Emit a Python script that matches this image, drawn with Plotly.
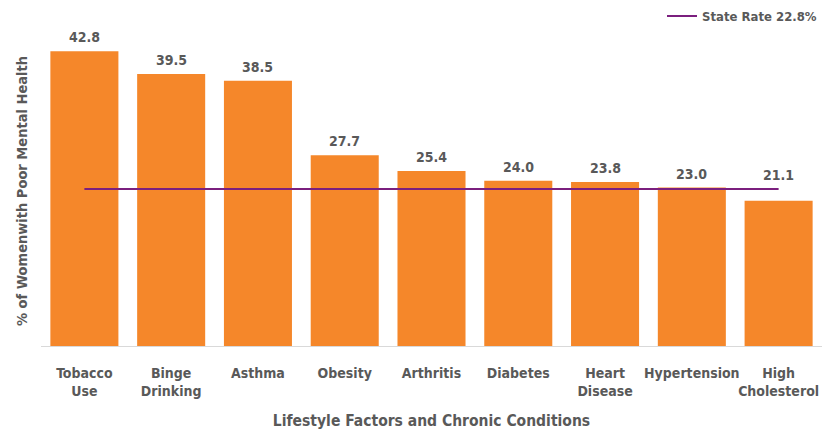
import plotly.graph_objects as go

categories = ["Tobacco<br>Use", "Binge<br>Drinking", "Asthma", "Obesity", "Arthritis",
              "Diabetes", "Heart<br>Disease", "Hypertension", "High<br>Cholesterol"]
values = [42.8, 39.5, 38.5, 27.7, 25.4, 24.0, 23.8, 23.0, 21.1]
state_rate = 22.8
state_label = "State Rate 22.8%"

FONT = "DejaVu Sans Condensed"
GREY = "#595959"

fig = go.Figure()
fig.add_trace(go.Bar(
    x=categories, y=values,
    marker=dict(color="#F5872A", line=dict(width=0)),
    showlegend=False,
    hoverinfo="skip",
))
fig.add_trace(go.Scatter(
    x=[categories[0], categories[-1]], y=[state_rate, state_rate],
    mode="lines", line=dict(color="#7B1F7E", width=2),
    name="<b>" + state_label + "</b>",
))

for c, v in zip(categories, values):
    fig.add_annotation(
        x=c, y=max(v, state_rate), text=f"<b>{v:.1f}</b>",
        showarrow=False, yanchor="bottom", yshift=4,
        font=dict(family=FONT, size=14, color=GREY),
    )

fig.update_layout(
    width=826, height=430,
    margin=dict(l=41, r=4, t=36, b=84, autoexpand=False),
    plot_bgcolor="white", paper_bgcolor="white",
    bargap=0.216,
    font=dict(family=FONT, color=GREY, size=13),
    legend=dict(x=1.0, xanchor="right", y=1.016, yanchor="bottom",
                font=dict(family=FONT, size=13, color=GREY),
                itemwidth=30, bgcolor="rgba(0,0,0,0)"),
    xaxis=dict(
        showline=True, linecolor="#D9D9D9", linewidth=1,
        tickfont=dict(family=FONT, size=14, color=GREY),
        tickangle=0,
        tickvals=categories, ticktext=[f"<b>{c}</b>" for c in categories],
        ticks="", ticklabelstandoff=14,
        title=dict(text="<b>Lifestyle Factors and Chronic Conditions</b>",
                   font=dict(family=FONT, size=15.5, color=GREY), standoff=17),
    ),
    yaxis=dict(
        range=[0, 45], showgrid=False, showticklabels=False, zeroline=False,
        title=dict(text="<b>% of Womenwith Poor Mental Health</b>",
                   font=dict(family=FONT, size=14.5, color=GREY), standoff=8),
    ),
)

fig.write_html("out.html")
